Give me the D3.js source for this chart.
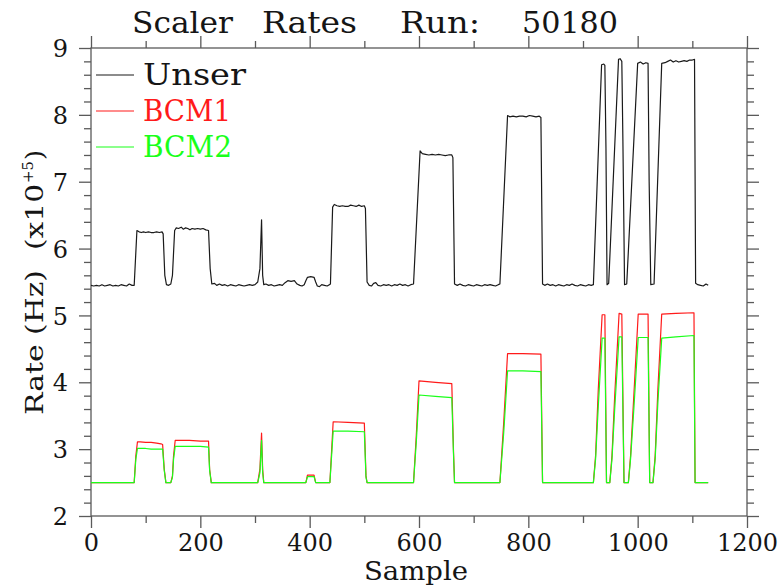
<!DOCTYPE html>
<html>
<head>
<meta charset="utf-8">
<script src="https://cdn.jsdelivr.net/npm/d3@7"></script>
<style>
  html, body { margin: 0; padding: 0; background: #fff; }
  svg { display: block; }
  text { font-family: "DejaVu Serif", serif; fill: #151515; }
</style>
</head>
<body>
<svg id="chart" width="778" height="588"></svg>
<script>
// ---------- data ----------
const titleWords = ["Scaler", "Rates", "Run:", "50180"];
const seriesNames = ["Unser", "BCM1", "BCM2"];
const xTickValues = [0, 200, 400, 600, 800, 1000, 1200];
const xMinorValues = [100, 300, 500, 700, 900, 1100];
const yTickValues = [2, 3, 4, 5, 6, 7, 8, 9];
const yMinorValues = [2.2, 2.4, 2.6, 2.8, 3.2, 3.4, 3.6, 3.8, 4.2, 4.4, 4.6, 4.8,
  5.2, 5.4, 5.6, 5.8, 6.2, 6.4, 6.6, 6.8, 7.2, 7.4, 7.6, 7.8, 8.2, 8.4, 8.6, 8.8];

// Unser monitor (units of 1e5 Hz)
const unserSample = [
  0, 5, 10, 15, 20, 25, 30, 35, 40, 45, 50, 55, 60, 65, 70, 75, 79,
  84, 88, 92, 96, 100, 105, 110, 115, 120, 125, 130, 132, 135, 138, 142, 146, 149,
  153, 156, 160, 165, 169, 173, 177, 181, 185, 190, 195, 200, 205, 210, 215, 218,
  221, 226, 230, 235, 240, 245, 250, 255, 260, 265, 270, 275, 280, 285, 290, 295, 300, 305, 309,
  312, 314, 316, 320, 325, 330, 335, 340, 345, 350, 355, 360, 366, 372, 377, 382, 386, 390,
  393, 396, 402, 408, 411, 414, 418, 422, 427, 432, 436, 438,
  442, 445, 450, 455, 460, 465, 470, 475, 480, 485, 490, 495, 500, 502,
  505, 509, 513, 517, 521, 525, 530, 535, 540, 545, 550, 555, 560, 565, 570, 575, 580, 585, 590,
  602, 606, 612, 618, 624, 630, 636, 642, 648, 654, 660, 662,
  665, 670, 675, 680, 685, 690, 695, 700, 705, 710, 715, 720, 725, 730, 735, 740, 745, 748,
  762, 766, 772, 778, 784, 790, 796, 802, 808, 814, 820, 823,
  826, 830, 835, 840, 845, 850, 855, 860, 865, 870, 875, 880, 885, 890, 895, 900, 905, 910, 915, 919,
  934, 938, 940, 942, 944, 947,
  965, 968, 971, 973, 976, 980,
  1000, 1005, 1010, 1015, 1019, 1021, 1024, 1030,
  1044, 1050, 1055, 1060, 1065, 1070, 1075, 1080, 1085, 1090, 1095, 1100, 1104,
  1106, 1110, 1115, 1120, 1125, 1129
];
const unserRate = [
  5.45, 5.44, 5.45, 5.44, 5.46, 5.44, 5.45, 5.46, 5.44, 5.45, 5.44, 5.46, 5.45, 5.44, 5.47, 5.45, 5.45,
  6.27, 6.25, 6.24, 6.25, 6.24, 6.25, 6.24, 6.24, 6.25, 6.24, 6.25, 6.22, 5.60, 5.46, 5.45, 5.47, 5.60,
  6.27, 6.31, 6.30, 6.32, 6.29, 6.31, 6.30, 6.28, 6.30, 6.29, 6.30, 6.29, 6.30, 6.28, 6.27, 5.70,
  5.47, 5.48, 5.45, 5.47, 5.45, 5.46, 5.44, 5.46, 5.45, 5.44, 5.46, 5.45, 5.44, 5.45, 5.46, 5.45, 5.46, 5.50, 5.70,
  6.43, 5.60, 5.46, 5.47, 5.45, 5.46, 5.44, 5.45, 5.46, 5.45, 5.49, 5.52, 5.51, 5.52, 5.47, 5.45, 5.44, 5.46,
  5.52, 5.57, 5.58, 5.57, 5.50, 5.44, 5.43, 5.46, 5.45, 5.44, 5.46, 5.47,
  6.62, 6.66, 6.64, 6.63, 6.64, 6.63, 6.63, 6.65, 6.64, 6.63, 6.65, 6.63, 6.64, 6.60,
  5.50, 5.45, 5.44, 5.48, 5.49, 5.45, 5.44, 5.46, 5.45, 5.46, 5.44, 5.46, 5.45, 5.47, 5.45, 5.46, 5.44, 5.46, 5.47,
  7.46, 7.42, 7.41, 7.40, 7.41, 7.40, 7.41, 7.40, 7.39, 7.40, 7.40, 7.36,
  5.47, 5.45, 5.47, 5.45, 5.44, 5.46, 5.45, 5.44, 5.46, 5.45, 5.44, 5.46, 5.45, 5.46, 5.45, 5.44, 5.46, 5.47,
  7.99, 7.97, 7.98, 7.97, 7.98, 7.98, 7.97, 7.99, 7.98, 7.97, 7.98, 7.96,
  5.47, 5.45, 5.47, 5.45, 5.46, 5.44, 5.46, 5.45, 5.44, 5.46, 5.45, 5.47, 5.45, 5.44, 5.46, 5.45, 5.44, 5.46, 5.45, 5.46,
  8.75, 8.76, 8.74, 7.50, 5.46, 5.48,
  8.83, 8.84, 8.80, 7.60, 5.46, 5.47,
  8.77, 8.79, 8.76, 8.78, 8.77, 7.00, 5.46, 5.47,
  8.77, 8.78, 8.80, 8.82, 8.79, 8.81, 8.79, 8.80, 8.81, 8.80, 8.82, 8.82, 8.83,
  5.48, 5.46, 5.45, 5.44, 5.47, 5.45
];

// BCM1 / BCM2 (units of 1e5 Hz)
const bcmSample = [
  0, 79, 82, 85, 90, 100, 110, 120, 128, 131, 134, 137, 146, 149, 151, 154, 180, 200, 215, 217, 220,
  305, 309, 312, 314, 316, 393, 396, 408, 411, 437, 443, 470, 500, 503, 505,
  590, 595, 600, 630, 660, 663, 665, 748, 755, 762, 790, 823, 826,
  919, 923, 928, 935, 940, 943, 949, 953, 958, 966, 971, 975,
  983, 987, 993, 1001, 1019, 1022, 1028, 1032, 1037, 1044, 1070, 1103, 1105, 1129
];
const bcm1Rate = [
  2.50, 2.50, 2.90, 3.11, 3.11, 3.10, 3.10, 3.09, 3.08, 3.07, 2.70, 2.50, 2.50, 2.60, 2.90, 3.13, 3.13, 3.12, 3.12, 2.70, 2.50,
  2.50, 2.70, 3.24, 2.70, 2.50, 2.50, 2.61, 2.61, 2.50, 2.50, 3.41, 3.40, 3.39, 2.60, 2.50,
  2.50, 3.20, 4.02, 4.00, 3.98, 3.00, 2.50, 2.50, 3.40, 4.43, 4.43, 4.42, 2.50,
  2.50, 2.90, 3.90, 5.01, 5.01, 2.50, 2.50, 2.90, 3.80, 5.03, 5.02, 2.50,
  2.50, 2.90, 3.80, 5.02, 5.02, 2.50, 2.50, 2.90, 3.90, 5.02, 5.03, 5.04, 2.50, 2.50
];
const bcm2Rate = [
  2.50, 2.50, 2.85, 3.01, 3.01, 3.01, 3.00, 3.00, 3.00, 3.00, 2.68, 2.50, 2.50, 2.58, 2.85, 3.04, 3.04, 3.04, 3.03, 2.68, 2.50,
  2.50, 2.65, 3.13, 2.65, 2.50, 2.50, 2.59, 2.59, 2.50, 2.50, 3.27, 3.27, 3.26, 2.58, 2.50,
  2.50, 3.10, 3.81, 3.79, 3.77, 2.95, 2.50, 2.50, 3.25, 4.17, 4.17, 4.16, 2.50,
  2.50, 2.85, 3.65, 4.66, 4.66, 2.50, 2.50, 2.85, 3.60, 4.68, 4.68, 2.50,
  2.50, 2.85, 3.60, 4.67, 4.67, 2.50, 2.50, 2.85, 3.70, 4.66, 4.68, 4.70, 2.50, 2.50
];

// ---------- drawing ----------
const svg = d3.select("#chart");
const x = d3.scaleLinear().domain([0, 1200]).range([91, 747]);
const y = d3.scaleLinear().domain([2, 9]).range([516, 48]);
const axisColor = "#5a5a5a";

function styleAxis(g) {
  g.select(".domain").remove();
  g.selectAll(".tick line").attr("stroke", axisColor).attr("stroke-width", 1.3);
  g.selectAll("text").attr("font-family", "DejaVu Serif").attr("fill", "#151515");
}

// bottom axis
svg.append("g").attr("transform", "translate(0,516)")
  .call(d3.axisBottom(x).tickValues(xTickValues).tickSize(12).tickPadding(6).tickFormat(d3.format("d")))
  .call(styleAxis)
  .call(g => g.selectAll("text").attr("font-size", 24).attr("dy", "0.71em").attr("y", 18));
svg.append("g").attr("transform", "translate(0,516)")
  .call(d3.axisBottom(x).tickValues(xMinorValues).tickSize(7).tickFormat(""))
  .call(styleAxis);
// top axis
svg.append("g").attr("transform", "translate(0,48)")
  .call(d3.axisTop(x).tickValues(xTickValues).tickSize(12).tickFormat(""))
  .call(styleAxis);
svg.append("g").attr("transform", "translate(0,48)")
  .call(d3.axisTop(x).tickValues(xMinorValues).tickSize(7).tickFormat(""))
  .call(styleAxis);
// left axis
svg.append("g").attr("transform", "translate(91,0)")
  .call(d3.axisLeft(y).tickValues(yTickValues).tickSize(12).tickPadding(11).tickFormat(d3.format("d")))
  .call(styleAxis)
  .call(g => g.selectAll("text").attr("font-size", 24).attr("dy", "0.36em"));
svg.append("g").attr("transform", "translate(91,0)")
  .call(d3.axisLeft(y).tickValues(yMinorValues).tickSize(7).tickFormat(""))
  .call(styleAxis);
// right axis
svg.append("g").attr("transform", "translate(747,0)")
  .call(d3.axisRight(y).tickValues(yTickValues).tickSize(12).tickFormat(""))
  .call(styleAxis);
svg.append("g").attr("transform", "translate(747,0)")
  .call(d3.axisRight(y).tickValues(yMinorValues).tickSize(7).tickFormat(""))
  .call(styleAxis);

// frame
svg.append("rect")
  .attr("x", x(0)).attr("y", y(9))
  .attr("width", x(1200) - x(0)).attr("height", y(2) - y(9))
  .attr("fill", "none").attr("stroke", axisColor).attr("stroke-width", 1.3);

// lines
const line = d3.line().x(d => x(d[0])).y(d => y(d[1]));
const seriesData = [
  { name: seriesNames[0], color: "#1a1a1a", pts: unserSample.map((s, i) => [s, unserRate[i]]) },
  { name: seriesNames[1], color: "#ff1a1a", pts: bcmSample.map((s, i) => [s, bcm1Rate[i]]) },
  { name: seriesNames[2], color: "#1aff1a", pts: bcmSample.map((s, i) => [s, bcm2Rate[i]]) }
];
svg.append("g").selectAll("path").data(seriesData).join("path")
  .attr("d", d => line(d.pts))
  .attr("fill", "none")
  .attr("stroke", d => d.color)
  .attr("stroke-width", 1.2)
  .attr("stroke-linejoin", "round");

// legend
const legendY = [75, 111, 147];
const legendLen = [103, 88, 89];
const lg = svg.append("g");
seriesData.forEach((s, i) => {
  lg.append("line").attr("x1", 96).attr("x2", 134)
    .attr("y1", legendY[i]).attr("y2", legendY[i])
    .attr("stroke", s.color).attr("stroke-width", 1.2);
  lg.append("text").attr("x", 143).attr("y", legendY[i] + 10)
    .attr("font-size", 30).attr("textLength", legendLen[i]).attr("lengthAdjust", "spacingAndGlyphs")
    .style("fill", i === 0 ? "#151515" : s.color)
    .text(s.name);
});

// title
const titleX = [132, 262, 400, 522];
const titleLen = [101, 95, 80, 96];
titleWords.forEach((w, i) => {
  svg.append("text").attr("x", titleX[i]).attr("y", 33)
    .attr("font-size", 30).attr("textLength", titleLen[i]).attr("lengthAdjust", "spacingAndGlyphs")
    .text(w);
});

// x label
svg.append("text").attr("x", 416).attr("y", 580)
  .attr("text-anchor", "middle").attr("font-size", 26)
  .attr("textLength", 104).attr("lengthAdjust", "spacingAndGlyphs")
  .text("Sample");

// y label
const yl = svg.append("g").attr("transform", "translate(43,0) rotate(-90)");
yl.append("text").attr("x", -415).attr("y", 0).attr("font-size", 24)
  .attr("textLength", 145).attr("lengthAdjust", "spacingAndGlyphs").text("Rate (Hz)");
yl.append("text").attr("x", -250).attr("y", 0).attr("font-size", 24)
  .attr("textLength", 66).attr("lengthAdjust", "spacingAndGlyphs").text("(x10");
yl.append("text").attr("x", -183).attr("y", -10).attr("font-size", 15)
  .attr("textLength", 22).attr("lengthAdjust", "spacingAndGlyphs").text("+5");
yl.append("text").attr("x", -160).attr("y", 0).attr("font-size", 24)
  .attr("textLength", 10).attr("lengthAdjust", "spacingAndGlyphs").text(")");
</script>
</body>
</html>
